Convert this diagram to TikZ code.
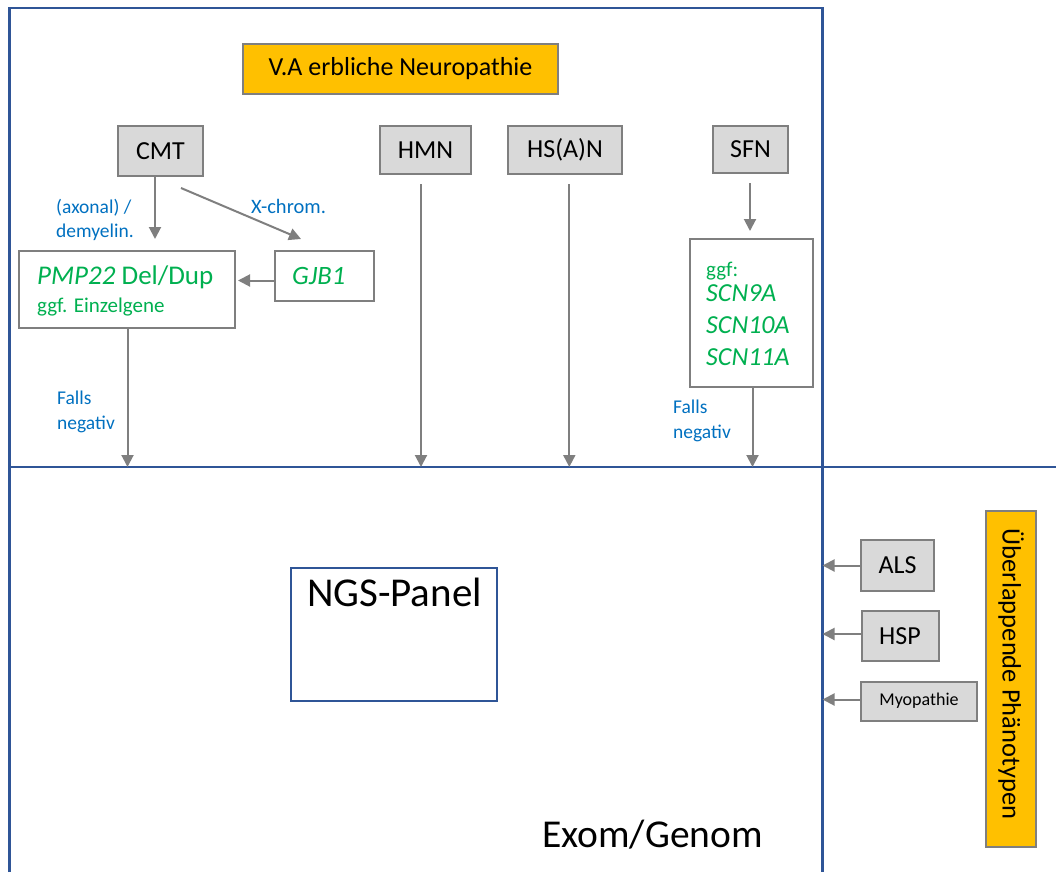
\documentclass[tikz,border=0pt]{standalone}
\usepackage{fontspec}
\setmainfont{Carlito}
\usetikzlibrary{arrows.meta}
\definecolor{frameblue}{HTML}{2F5597}
\definecolor{arrowgray}{HTML}{7F7F7F}
\definecolor{boxgray}{HTML}{D9D9D9}
\definecolor{labelblue}{HTML}{0070C0}
\definecolor{genegreen}{HTML}{00B050}
\definecolor{goldbox}{HTML}{FFC000}
\newcommand\fsz[1]{\fontsize{#1}{#1}\selectfont}
\tikzset{
  frameline/.style={draw=frameblue, line width=2.2pt},
  conn/.style={draw=arrowgray, line width=2pt, -{Triangle[length=12pt,width=12pt]}},
  graybox/.style={draw=arrowgray, fill=boxgray, line width=2pt, inner sep=0pt, font=\fsz{26}},
  whitebox/.style={draw=arrowgray, fill=white, line width=2pt, inner sep=0pt},
  goldrect/.style={draw=arrowgray, fill=goldbox, line width=2pt, inner sep=0pt},
  lbl/.style={anchor=base west, inner sep=0pt, text=labelblue, font=\fsz{19.5}},
  gene/.style={anchor=base west, inner sep=0pt, text=genegreen},
}
\begin{document}
\begin{tikzpicture}[x=1pt,y=-1pt]
\useasboundingbox (0,0) rectangle (1056,872);
% frame lines
\draw[frameline] (9.5,872) -- (9.5,8) -- (822.5,8) -- (822.5,872);
\draw[frameline] (9.5,467) -- (1056,467);
\coordinate (hl) at (0,467);
\coordinate (vl) at (822.5,0);

% title
\node[goldrect, minimum width=315, minimum height=50, font=\fsz{26}] (title) at (400.5,69) {V.A erbliche Neuropathie};

% top boxes
\node[graybox, minimum width=85, minimum height=50] (cmt) at (160.5,151) {CMT};
\node[graybox, minimum width=91, minimum height=48] (hmn) at (425.5,150) {HMN};
\node[graybox, minimum width=114, minimum height=48] (hsan) at (565,150) {HS(A)N};
\node[graybox, minimum width=75, minimum height=47] (sfn) at (750.5,149.5) {SFN};

% gene boxes
\node[whitebox, minimum width=216, minimum height=77] (pmp) at (127,289.5) {};
\node[gene, font=\fsz{27}] (pmptxt) at (37,284) {\textit{PMP22} Del/Dup};
\node[gene, font=\fsz{21}] (einz) at (37,312) {ggf. Einzelgene};

\node[whitebox, minimum width=99, minimum height=50] (gjb) at (324.5,276) {};
\node[gene, font=\fsz{26.5}\itshape] (gjbtxt) at (292,284) {GJB1};

\node[whitebox, minimum width=123, minimum height=148] (scn) at (751.5,313) {};
\node[gene, font=\fsz{21}] (ggf) at (706,276) {ggf:};
\node[gene, font=\fsz{26}\itshape] (scn9) at (706,301) {SCN9A};
\node[gene, font=\fsz{26}\itshape] (scn10) at (706,333) {SCN10A};
\node[gene, font=\fsz{26}\itshape] (scn11) at (706,365) {SCN11A};

% labels
\node[lbl] (ax1) at (56,213) {(axonal) /};
\node[lbl] (ax2) at (56,237) {demyelin.};
\node[lbl, font=\fsz{20.5}] (xch) at (251,213) {X-chrom.};
\node[lbl] (fl1) at (57,404) {Falls};
\node[lbl] (fl2) at (57,429) {negativ};
\node[lbl] (fr1) at (673,413) {Falls};
\node[lbl] (fr2) at (673,438) {negativ};

% arrows top
\draw[conn] ([xshift=-5.5pt]cmt.south) -- ([xshift=28pt,yshift=11pt]pmp.north);
\draw[conn] ([xshift=-23pt,yshift=-11pt]cmt.south east) -- ([xshift=27pt,yshift=11pt]gjb.north west);
\coordinate (gjbout) at ([yshift=-4.5pt]gjb.west);
\coordinate (pmpin) at ([xshift=2pt]pmp.east |- gjbout);
\draw[conn] (gjbout) -- (pmpin);
\draw[conn] ([xshift=0.5pt]pmp.south) coordinate (p1) -- (p1 |- hl);
\draw[conn] ([xshift=-4.5pt,yshift=-9pt]hmn.south) coordinate (h1) -- (h1 |- hl);
\draw[conn] ([xshift=4.3pt,yshift=-9pt]hsan.south) coordinate (h2) -- (h2 |- hl);
\draw[conn] ([xshift=-0.5pt,yshift=-9pt]sfn.south) -- ([xshift=-1.5pt,yshift=7pt]scn.north);
\draw[conn] ([xshift=1pt]scn.south) coordinate (s1) -- (s1 |- hl);

% lower area
\node[draw=frameblue, line width=2pt, fill=white, minimum width=206, minimum height=133, inner sep=0pt] (ngs) at (394,634) {};
\node[anchor=base, inner sep=0pt, font=\fsz{41}] (ngstxt) at (394.5,606) {NGS-Panel};
\node[anchor=base west, inner sep=0pt, font=\fsz{39.5}] (exom) at (542,847) {Exom/Genom};

% right side
\node[graybox, minimum width=73, minimum height=51] (als) at (897.5,565.5) {ALS};
\node[graybox, minimum width=77, minimum height=50] (hsp) at (900,636) {HSP};
\node[graybox, minimum width=116, minimum height=39, font=\fsz{18}] (myo) at (919,701) {Myopathie};
\draw[conn] (als.west) -- (als.west -| vl);
\draw[conn] ([yshift=2pt]hsp.west) coordinate (r2) -- (r2 -| vl);
\draw[conn] ([yshift=1.5pt]myo.west) coordinate (r3) -- (r3 -| vl);

\node[goldrect, minimum width=50, minimum height=336] (over) at (1011,678.5) {};
\node[rotate=-90, inner sep=0pt, font=\fsz{26.5}] (overtxt) at (1011,674) {Überlappende Phänotypen};
\end{tikzpicture}
\end{document}
